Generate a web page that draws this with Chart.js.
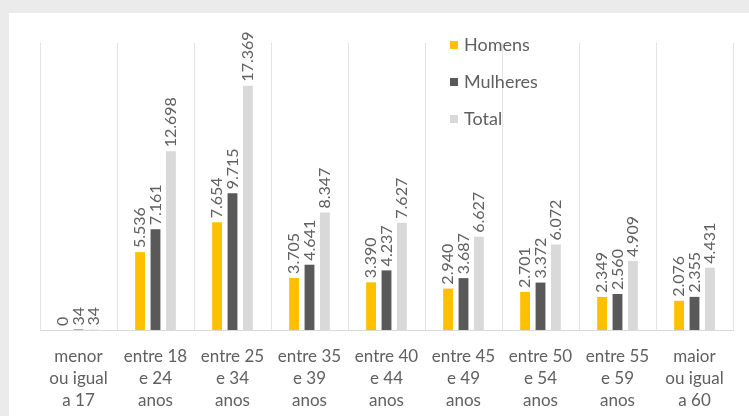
<!DOCTYPE html>
<html>
<head>
<meta charset="utf-8">
<script src="https://cdn.jsdelivr.net/npm/chart.js@4/dist/chart.umd.min.js"></script>
<style>
  html, body { margin: 0; padding: 0; background: #ebebeb; overflow: hidden; width: 749px; height: 416px; }
  #panel { position: absolute; left: 9px; top: 13px; width: 740px; height: 420px; background: #fff; }
</style>
</head>
<body>
<div id="panel"><canvas id="chart" width="740" height="420"></canvas></div>
<script>
const categories = [
  ['menor', 'ou igual', 'a 17'],
  ['entre 18', 'e 24', 'anos'],
  ['entre 25', 'e 34', 'anos'],
  ['entre 35', 'e 39', 'anos'],
  ['entre 40', 'e 44', 'anos'],
  ['entre 45', 'e 49', 'anos'],
  ['entre 50', 'e 54', 'anos'],
  ['entre 55', 'e 59', 'anos'],
  ['maior', 'ou igual', 'a 60']
];
const homens   = [0, 5536, 7654, 3705, 3390, 2940, 2701, 2349, 2076];
const mulheres = [34, 7161, 9715, 4641, 4237, 3687, 3372, 2560, 2355];
const total    = [34, 12698, 17369, 8347, 7627, 6627, 6072, 4909, 4431];
const seriesNames = ['Homens', 'Mulheres', 'Total'];
const seriesColors = ['#ffc000', '#595959', '#d9d9d9'];

const FONT = 'Lato, "Open Sans", sans-serif';
const TEXT = '#606060';

const fmt = v => String(v).replace(/\B(?=(\d{3})+(?!\d))/g, '.');

// rotated value labels above each bar
const valueLabels = {
  id: 'valueLabels',
  afterDatasetsDraw(chart) {
    const ctx = chart.ctx;
    ctx.save();
    ctx.font = '16px ' + FONT;
    ctx.fillStyle = TEXT;
    ctx.textAlign = 'left';
    ctx.textBaseline = 'middle';
    chart.data.datasets.forEach((ds, i) => {
      chart.getDatasetMeta(i).data.forEach((bar, j) => {
        ctx.save();
        ctx.translate(bar.x, bar.y - 4);
        ctx.rotate(-Math.PI / 2);
        ctx.fillText(fmt(ds.data[j]), 0, 0);
        ctx.restore();
      });
    });
    ctx.restore();
  }
};

// vertical legend in the upper middle of the plot
const sideLegend = {
  id: 'sideLegend',
  afterDraw(chart) {
    const ctx = chart.ctx;
    ctx.save();
    ctx.font = '18px ' + FONT;
    ctx.textBaseline = 'middle';
    ctx.textAlign = 'left';
    chart.data.datasets.forEach((ds, i) => {
      const y = 32 + i * 37;
      ctx.fillStyle = ds.backgroundColor;
      ctx.fillRect(441, y - 4, 8, 8);
      ctx.fillStyle = TEXT;
      ctx.fillText(ds.label, 455, y);
    });
    ctx.restore();
  }
};

new Chart(document.getElementById('chart'), {
  type: 'bar',
  data: {
    labels: categories,
    datasets: [homens, mulheres, total].map((d, i) => ({
      label: seriesNames[i],
      data: d,
      backgroundColor: seriesColors[i],
      categoryPercentage: 0.6,
      barPercentage: 0.64
    }))
  },
  options: {
    responsive: false,
    animation: false,
    layout: { padding: { left: 31, right: 16, top: 30, bottom: 0 } },
    plugins: { legend: { display: false }, tooltip: { enabled: false } },
    scales: {
      x: {
        grid: { display: true, offset: true, color: '#e3e3e3', drawTicks: false },
        border: { display: true, color: '#d9d9d9' },
        ticks: {
          color: TEXT,
          font: { family: FONT, size: 17, lineHeight: 1.3 },
          padding: 15,
          maxRotation: 0,
          autoSkip: false
        },
        afterFit(scale) { scale.height = 103; }
      },
      y: {
        display: false,
        min: 0,
        max: 20400
      }
    }
  },
  plugins: [valueLabels, sideLegend]
});
</script>
</body>
</html>
